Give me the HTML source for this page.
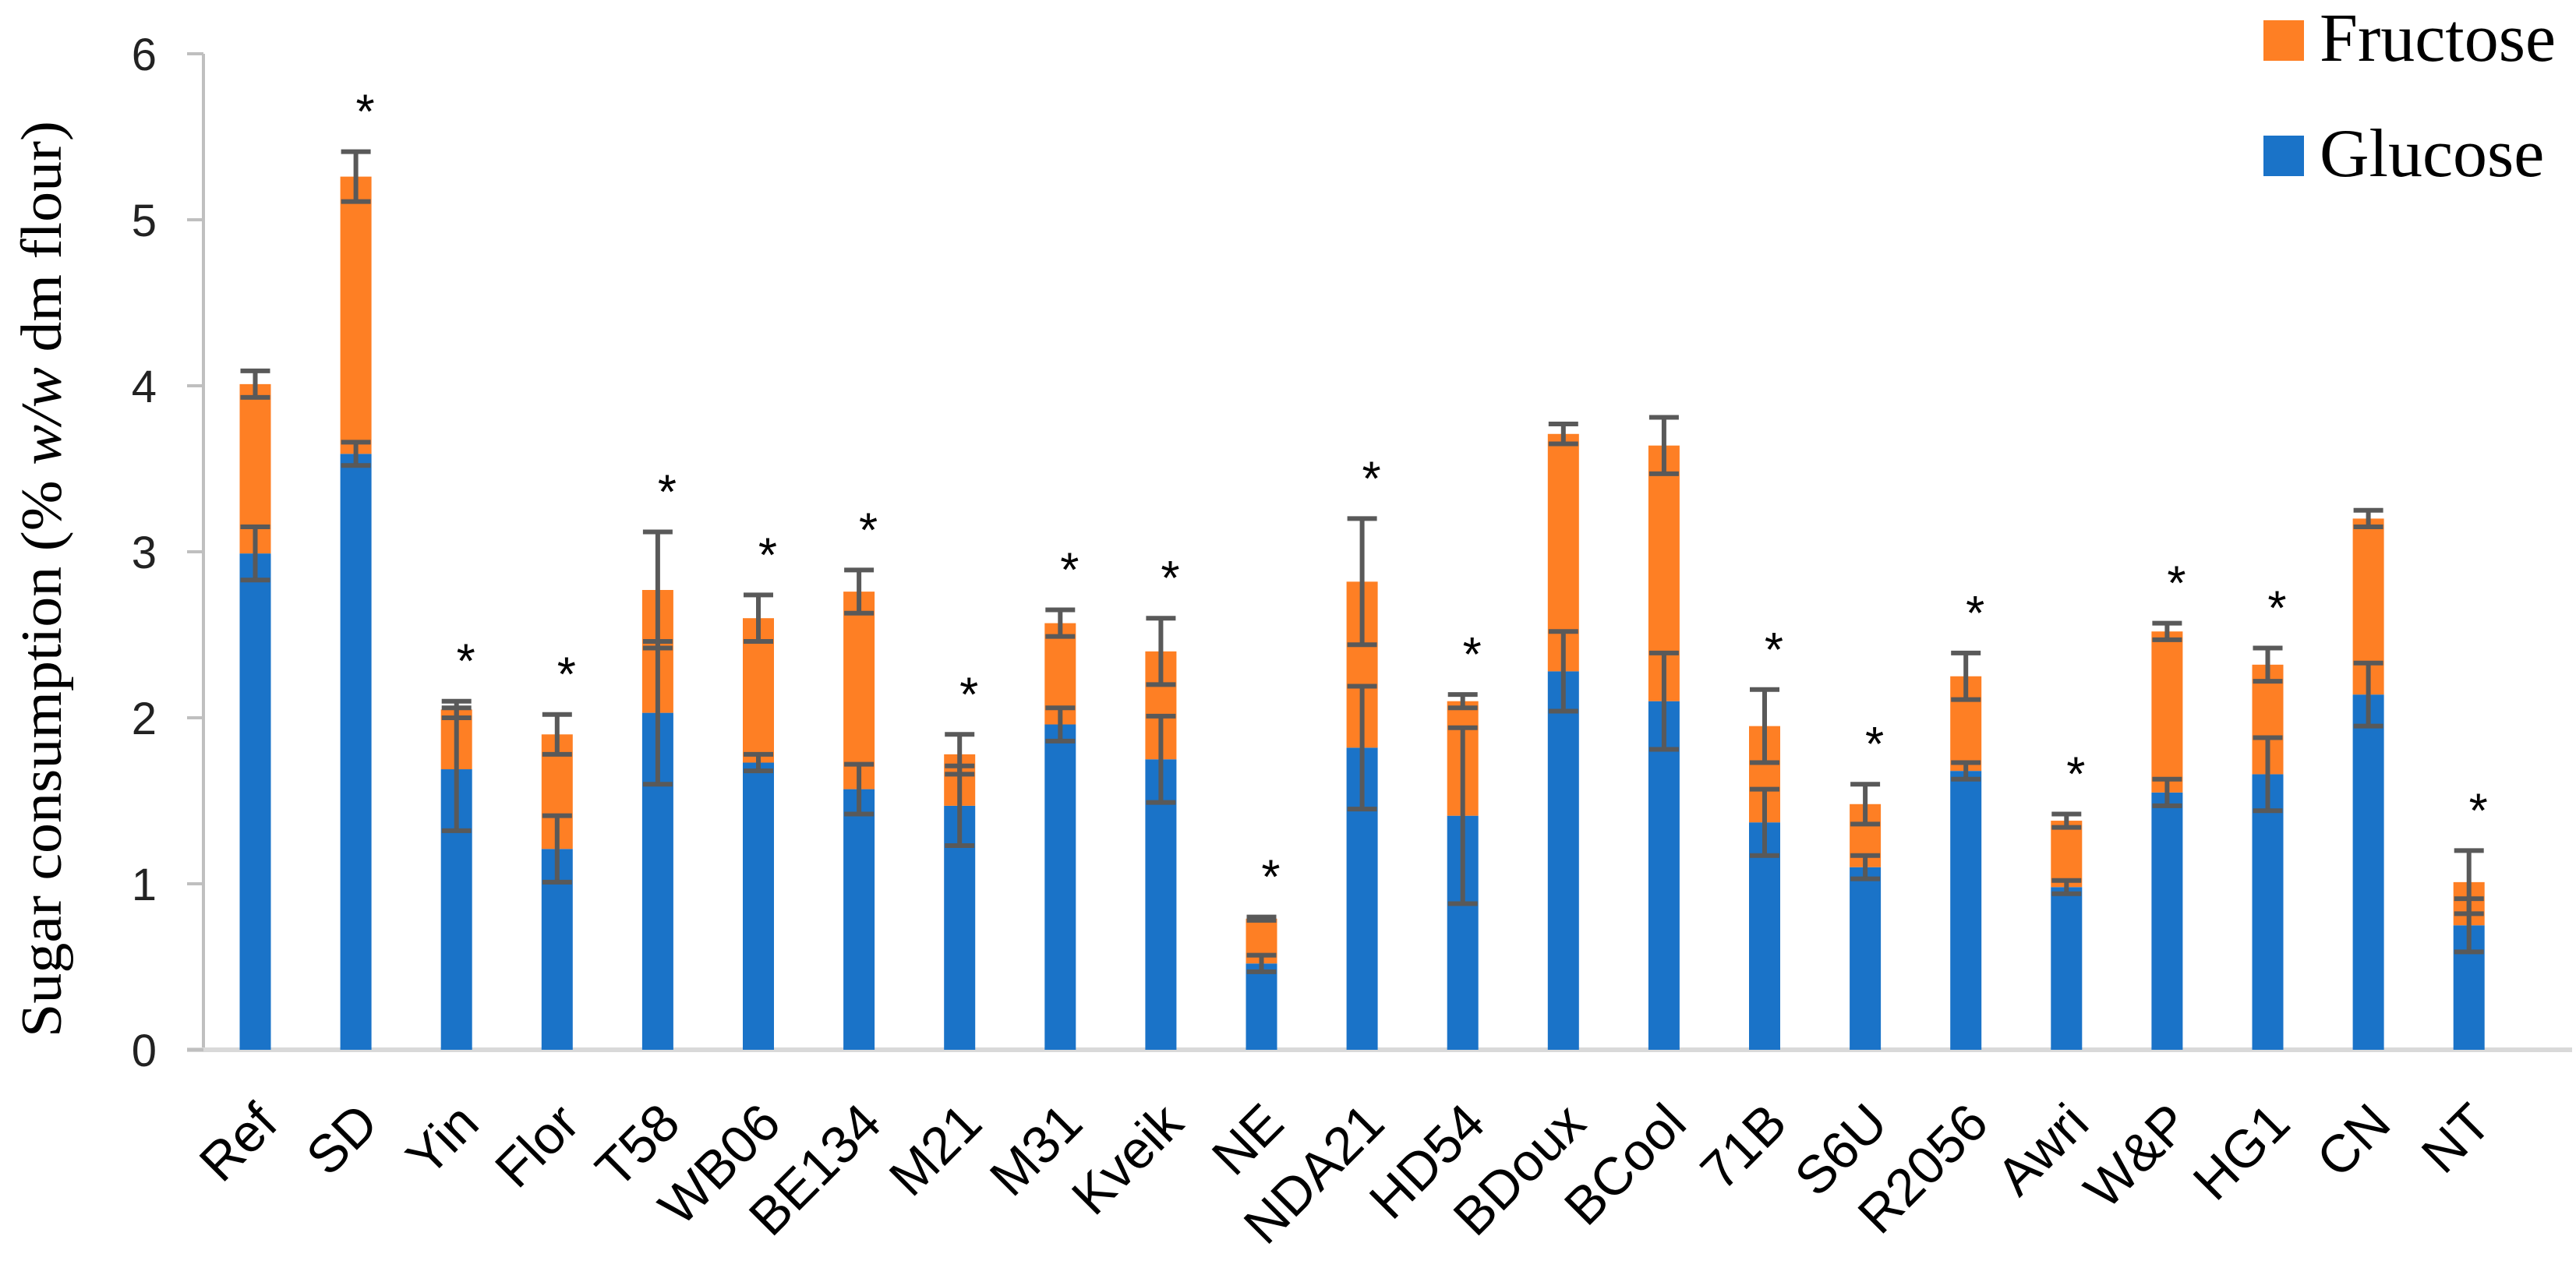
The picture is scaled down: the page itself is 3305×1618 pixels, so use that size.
<!DOCTYPE html>
<html><head><meta charset="utf-8"><style>
html,body{margin:0;padding:0;background:#fff;}
svg{display:block;}
</style></head><body>
<svg id="chart" width="3305" height="1618" viewBox="0 0 3305 1618" xmlns="http://www.w3.org/2000/svg">
<g id="axes"></g>
<g id="bars"></g>
<g id="labels"></g>
<text transform="translate(78,743) rotate(-90)" text-anchor="middle" font-family="Liberation Serif, serif" font-size="74" fill="#000" textLength="1176" lengthAdjust="spacingAndGlyphs">Sugar consumption (% <tspan font-style="italic">w/w</tspan> dm flour)</text>
<g>
<rect x="2904" y="26" width="52" height="52" fill="#fe7f24"/>
<text x="2976" y="78" font-family="Liberation Serif, serif" font-size="88" fill="#000">Fructose</text>
<rect x="2904" y="174" width="52" height="52" fill="#1a73c8"/>
<text x="2976" y="226" font-family="Liberation Serif, serif" font-size="88" fill="#000">Glucose</text>
</g>
</svg>
<script>
const categories = ["Ref","SD","Yin","Flor","T58","WB06","BE134","M21","M31","Kveik","NE","NDA21","HD54","BDoux","BCool","71B","S6U","R2056","Awri","W&P","HG1","CN","NT"];
const glucose    = [2.99,3.59,1.69,1.21,2.03,1.73,1.57,1.47,1.96,1.75,0.52,1.82,1.41,2.28,2.10,1.37,1.10,1.68,0.98,1.55,1.66,2.14,0.75];
const glucoseErr = [0.16,0.07,0.37,0.20,0.43,0.05,0.15,0.24,0.10,0.26,0.05,0.37,0.53,0.24,0.29,0.20,0.07,0.05,0.04,0.08,0.22,0.19,0.16];
const total      = [4.01,5.26,2.05,1.90,2.77,2.60,2.76,1.78,2.57,2.40,0.79,2.82,2.10,3.71,3.64,1.95,1.48,2.25,1.38,2.52,2.32,3.20,1.01];
const totalErr   = [0.08,0.15,0.05,0.12,0.35,0.14,0.13,0.12,0.08,0.20,0.01,0.38,0.04,0.06,0.17,0.22,0.12,0.14,0.04,0.05,0.10,0.05,0.19];
const significant= [false,true,true,true,true,true,true,true,true,true,true,true,true,false,false,true,true,true,true,true,true,false,true];
const yTicks = [0,1,2,3,4,5,6];

const NS = "http://www.w3.org/2000/svg";
const y0 = 1347, yTop = 69, yMax = 6;
const x0 = 327.5, step = 129.1, bw = 40;
function yScale(v){ return y0 - (v / yMax) * (y0 - yTop); }
function xScale(i){ return x0 + i * step; }
function mk(tag, attrs, parent){ const e = document.createElementNS(NS, tag); for (const k in attrs) e.setAttribute(k, attrs[k]); parent.appendChild(e); return e; }

const axes = document.getElementById('axes');
const bars = document.getElementById('bars');
const labels = document.getElementById('labels');

let ax = mk('line', {x1:261, y1:yTop, x2:261, y2:y0, stroke:'#bfbfbf', 'stroke-width':4}, axes);


let bl = mk('line', {x1:240, y1:y0, x2:3300, y2:y0, stroke:'#d9d9d9', 'stroke-width':6}, axes);


yTicks.forEach(t => {
  const y = yScale(t);
  const tk = mk('line', {x1:240, y1:y, x2:261, y2:y, stroke:'#bfbfbf', 'stroke-width':4}, axes);
  
  
  const tl = mk('text', {x:201, y:y+21, 'text-anchor':'end', 'font-family':'Liberation Sans, sans-serif', 'font-size':58, fill:'#222'}, axes);
  tl.textContent = t;
  
  
});

function errBar(cx, v, e, parent){
  const g = mk('g', {stroke:'#595959', 'stroke-width':6}, parent);
  
  
  const a = yScale(v + e), b = yScale(v - e);
  mk('line', {x1:cx, y1:a, x2:cx, y2:b}, g);
  mk('line', {x1:cx-19, y1:a, x2:cx+19, y2:a}, g);
  mk('line', {x1:cx-19, y1:b, x2:cx+19, y2:b}, g);
}

categories.forEach((c, i) => {
  const cx = xScale(i);
  const g = mk('rect', {x:cx-bw/2, y:yScale(glucose[i]), width:bw, height:y0-yScale(glucose[i]), fill:'#1a73c8'}, bars);
  
  
  const f = mk('rect', {x:cx-bw/2, y:yScale(total[i]), width:bw, height:yScale(glucose[i])-yScale(total[i]), fill:'#fe7f24'}, bars);
  
  
  errBar(cx, glucose[i], glucoseErr[i], bars);
  errBar(cx, total[i], totalErr[i], bars);
  if (significant[i]) {
    const s = mk('text', {x:cx+12, y:yScale(total[i]+totalErr[i])-30, 'text-anchor':'middle', 'font-family':'Liberation Sans, sans-serif', 'font-size':62, fill:'#000'}, bars);
    s.textContent = '*';
    
    
  }
  const lx = cx + 32, ly = 1445;
  const t = mk('text', {x:lx, y:ly, transform:'rotate(-45 ' + lx + ' ' + ly + ')', 'text-anchor':'end', 'font-family':'Liberation Sans, sans-serif', 'font-size':68, fill:'#000'}, labels);
  t.textContent = c;
  
  
});
</script>
</body></html>
